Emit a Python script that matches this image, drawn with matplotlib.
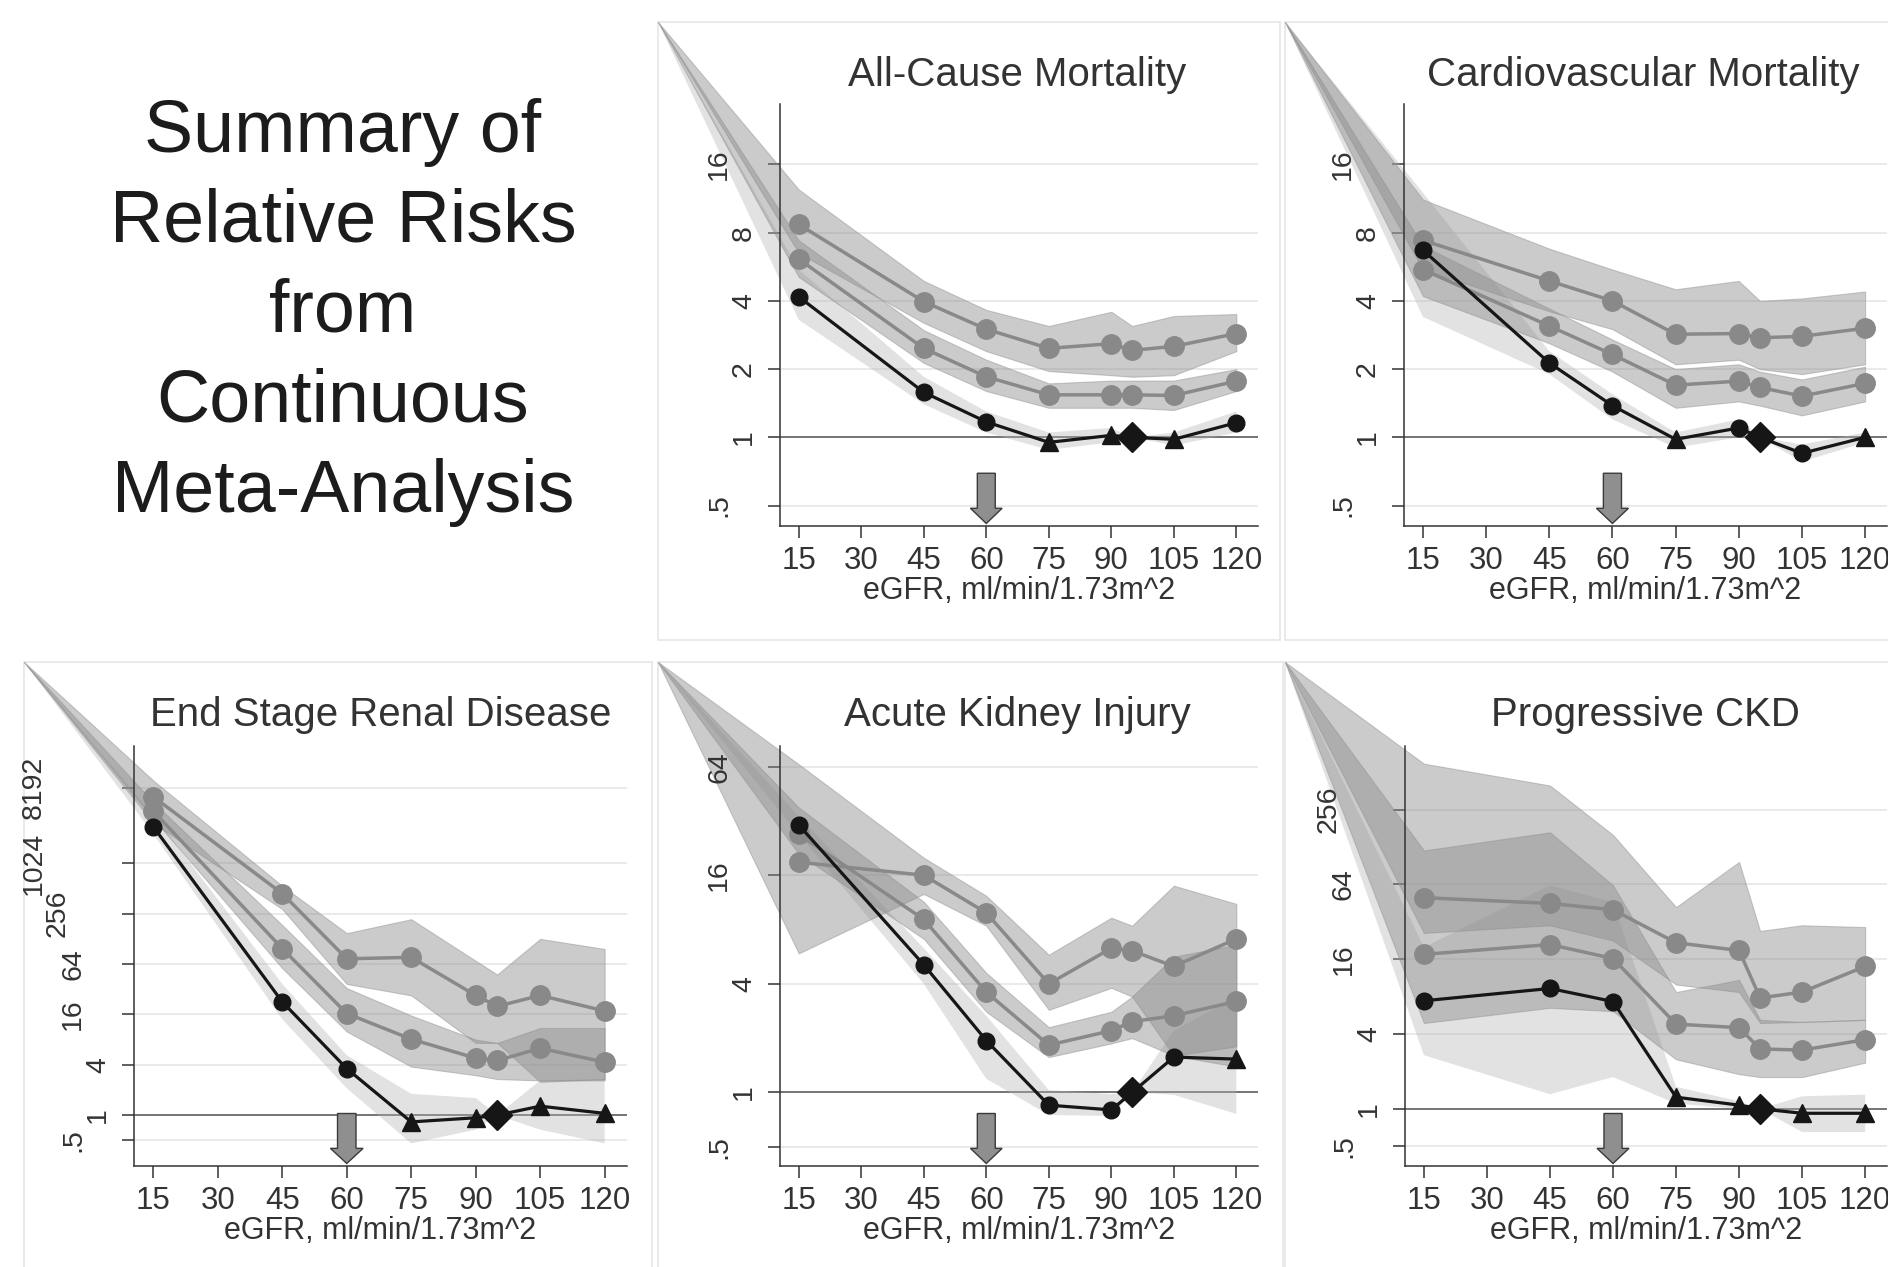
import matplotlib.pyplot as plt
from matplotlib.patches import Rectangle, FancyArrow
from matplotlib.ticker import NullLocator

plt.rcParams['font.family'] = ['Liberation Sans', 'DejaVu Sans']

# eGFR categories (ml/min/1.73m^2); 95 is the reference category
egfr = [15, 45, 60, 75, 90, 95, 105, 120]
egfr_ticks = [15, 30, 45, 60, 75, 90, 105, 120]

# marker kind of the black curve: s = significant, n = not significant, r = reference
# All-cause mortality
acm_black = [4.17, 1.58, 1.17, 0.95, 1.02, 1.0, 0.98, 1.16]
acm_black_lo = [3.3, 1.40, 1.05, 0.88, 0.95, 1.0, 0.92, 1.05]
acm_black_hi = [5.5, 1.85, 1.30, 1.05, 1.10, 1.0, 1.05, 1.30]
acm_kind = ['s', 's', 's', 'n', 'n', 'r', 'n', 's']
acm_g1 = [8.7, 3.97, 3.0, 2.47, 2.59, 2.42, 2.52, 2.87]
acm_g1_lo = [6.5, 3.2, 2.4, 1.96, 1.88, 1.85, 1.88, 2.4]
acm_g1_hi = [12.4, 4.9, 3.65, 3.1, 3.58, 3.1, 3.43, 3.5]
acm_g2 = [6.12, 2.47, 1.85, 1.54, 1.54, 1.54, 1.53, 1.77]
acm_g2_lo = [5.1, 2.13, 1.6, 1.35, 1.35, 1.35, 1.32, 1.6]
acm_g2_hi = [7.4, 2.97, 2.2, 1.73, 1.78, 1.78, 1.78, 2.0]

# Cardiovascular mortality
cvd_black = [6.7, 2.13, 1.38, 0.98, 1.1, 1.0, 0.85, 1.0]
cvd_black_lo = [3.4, 1.9, 1.2, 0.9, 1.0, 1.0, 0.78, 0.95]
cvd_black_hi = [12.0, 2.4, 1.55, 1.05, 1.2, 1.0, 0.93, 1.05]
cvd_kind = ['s', 's', 's', 'n', 's', 'r', 's', 'n']
cvd_g1 = [7.4, 4.9, 4.0, 2.85, 2.87, 2.75, 2.79, 3.03]
cvd_g1_lo = [5.5, 3.6, 3.0, 2.1, 2.2, 2.0, 1.9, 2.1]
cvd_g1_hi = [11.2, 6.8, 5.5, 4.5, 4.9, 4.0, 4.1, 4.4]
cvd_g2 = [5.5, 3.1, 2.32, 1.7, 1.77, 1.66, 1.52, 1.73]
cvd_g2_lo = [4.2, 2.6, 1.95, 1.35, 1.44, 1.38, 1.25, 1.44]
cvd_g2_hi = [7.0, 3.7, 2.7, 2.0, 2.1, 1.95, 1.8, 2.05]

# End stage renal disease
esrd_black = [2800, 22.6, 3.6, 0.83, 0.93, 1.0, 1.28, 1.05]
esrd_black_lo = [2300, 14, 2.1, 0.46, 0.67, 1.0, 0.67, 0.46]
esrd_black_hi = [3900, 37, 5.2, 1.8, 1.6, 1.0, 2.6, 2.7]
esrd_kind = ['s', 's', 's', 'n', 'n', 'r', 'n', 'n']
esrd_g1 = [6400, 445, 74, 77, 27, 20, 27, 17.6]
esrd_g1_lo = [3100, 290, 37, 27, 7.3, 7.3, 2.5, 2.7]
esrd_g1_hi = [10000, 550, 150, 220, 70, 48, 128, 97]
esrd_g2 = [4300, 98, 16.4, 8.1, 4.8, 4.5, 6.3, 4.3]
esrd_g2_lo = [3500, 57, 10, 3.8, 3.0, 2.7, 2.6, 2.6]
esrd_g2_hi = [5500, 187, 33, 15.5, 8, 7.3, 11, 11]

# Acute kidney injury
aki_black = [30.4, 5.1, 1.94, 0.85, 0.8, 1.0, 1.57, 1.53]
aki_black_lo = [27, 4.0, 1.19, 0.75, 0.74, 1.0, 0.97, 0.76]
aki_black_hi = [34, 6.3, 2.66, 1.03, 0.98, 1.0, 2.2, 3.4]
aki_kind = ['s', 's', 's', 's', 's', 'r', 's', 'n']
aki_g1 = [18.9, 16, 9.9, 4.0, 6.3, 6.1, 5.0, 7.1]
aki_g1_lo = [5.9, 12.6, 8.4, 2.87, 3.8, 3.4, 1.6, 1.8]
aki_g1_hi = [66, 20, 12.3, 5.8, 9.3, 8.4, 14, 11.1]
aki_g2 = [27, 9.1, 3.6, 1.83, 2.2, 2.47, 2.66, 3.2]
aki_g2_lo = [21, 7.1, 2.8, 1.57, 1.87, 2.0, 1.6, 1.39]
aki_g2_hi = [38, 11.4, 4.6, 2.3, 2.8, 3.4, 5.66, 6.6]

# Progressive CKD
ckd_black = [7.4, 9.3, 7.3, 1.24, 1.07, 1.0, 0.92, 0.92]
ckd_black_lo = [2.7, 1.31, 1.8, 1.1, 1.0, 1.0, 0.65, 0.65]
ckd_black_hi = [20, 63, 46, 1.5, 1.15, 1.0, 1.26, 1.3]
ckd_kind = ['s', 's', 's', 'n', 'n', 'r', 'n', 'n']
ckd_g1 = [50, 45, 40, 21.7, 18.8, 7.8, 8.7, 14]
ckd_g1_lo = [26, 30, 22.6, 10, 8.7, 4.9, 5.0, 5.2]
ckd_g1_hi = [600, 400, 160, 42, 97, 27, 30, 29]
ckd_g2 = [17.5, 21, 16.2, 4.8, 4.5, 3.03, 2.97, 3.6]
ckd_g2_lo = [4.9, 6.5, 6.1, 2.5, 1.9, 1.8, 1.8, 2.35]
ckd_g2_hi = [120, 168, 63, 8.7, 10.9, 5.2, 5.0, 5.2]

# y axis ticks per panel
yt_mort = [0.5, 1, 2, 4, 8, 16]
yl_mort = ['.5', '1', '2', '4', '8', '16']
yt_esrd = [0.5, 1, 4, 16, 64, 256, 1024, 8192]
yl_esrd = ['.5', '1', '4', '16', '64', '256', '1024', '8192']
yt_aki = [0.5, 1, 4, 16, 64]
yl_aki = ['.5', '1', '4', '16', '64']
yt_ckd = [0.5, 1, 4, 16, 64, 256]
yl_ckd = ['.5', '1', '4', '16', '64', '256']

summary_lines = ['Summary of', 'Relative Risks', 'from', 'Continuous', 'Meta-Analysis']

W, H, DPI = 1888, 1267, 100

# layout in pixels: axes box, frame box (left, top, right, bottom), title centre, log2 y-range
panels = [
    dict(title='All-Cause Mortality', black=(acm_black, acm_black_lo, acm_black_hi), kind=acm_kind,
         g1=(acm_g1, acm_g1_lo, acm_g1_hi), g2=(acm_g2, acm_g2_lo, acm_g2_hi),
         yt=yt_mort, yl=yl_mort, ylog=(-1.30, 4.886),
         box=(780, 104, 1258, 526), frame=(658, 22, 1280, 640), tpos=(1017, 75)),
    dict(title='Cardiovascular Mortality', black=(cvd_black, cvd_black_lo, cvd_black_hi), kind=cvd_kind,
         g1=(cvd_g1, cvd_g1_lo, cvd_g1_hi), g2=(cvd_g2, cvd_g2_lo, cvd_g2_hi),
         yt=yt_mort, yl=yl_mort, ylog=(-1.30, 4.886),
         box=(1404, 104, 1887, 526), frame=(1285, 22, 1910, 640), tpos=(1643, 75)),
    dict(title='End Stage Renal Disease', black=(esrd_black, esrd_black_lo, esrd_black_hi), kind=esrd_kind,
         g1=(esrd_g1, esrd_g1_lo, esrd_g1_hi), g2=(esrd_g2, esrd_g2_lo, esrd_g2_hi),
         yt=yt_esrd, yl=yl_esrd, ylog=(-2.02, 14.66),
         box=(134, 746, 627, 1166), frame=(24, 662, 652, 1290), tpos=(381, 715)),
    dict(title='Acute Kidney Injury', black=(aki_black, aki_black_lo, aki_black_hi), kind=aki_kind,
         g1=(aki_g1, aki_g1_lo, aki_g1_hi), g2=(aki_g2, aki_g2_lo, aki_g2_hi),
         yt=yt_aki, yl=yl_aki, ylog=(-1.355, 6.38),
         box=(780, 746, 1258, 1166), frame=(658, 662, 1283, 1290), tpos=(1017, 715)),
    dict(title='Progressive CKD', black=(ckd_black, ckd_black_lo, ckd_black_hi), kind=ckd_kind,
         g1=(ckd_g1, ckd_g1_lo, ckd_g1_hi), g2=(ckd_g2, ckd_g2_lo, ckd_g2_hi),
         yt=yt_ckd, yl=yl_ckd, ylog=(-1.53, 9.7),
         box=(1405, 746, 1887, 1166), frame=(1285, 662, 1910, 1290), tpos=(1645, 715)),
]

# rotated y labels sit further out the longer they are
LABEL_OFFSET = {1: 36, 2: 61, 3: 76, 4: 100}
PX = 72.0 / DPI

INK = '#333333'
GRAY = '#898989'
BLACK = '#161616'
MARKERS = {'s': ('o', 12), 'n': ('^', 12.5), 'r': ('D', 15)}


def fig_rect(left, top, right, bottom):
    return [left / W, 1 - bottom / H, (right - left) / W, (bottom - top) / H]


def draw_band(ax, lo, hi, apex, clip, **kw):
    xs = [apex[0]] + egfr
    poly = ax.fill_between(xs, [apex[1]] + lo, [apex[1]] + hi, **kw)
    poly.set_clip_path(clip)


fig = plt.figure(figsize=(W / DPI, H / DPI), dpi=DPI)
fig.patch.set_facecolor('white')

for i, line in enumerate(summary_lines):
    fig.text(343 / W, 1 - (152 + 90 * i) / H, line, ha='center', va='baseline',
             fontsize=53, color='#1c1c1c')

for p in panels:
    fl, ft, fr, fb = p['frame']
    frame = Rectangle((fl / W, 1 - fb / H), (fr - fl) / W, (fb - ft) / H,
                      transform=fig.transFigure, facecolor='white',
                      edgecolor='#e6e6e6', linewidth=1.2, zorder=0)
    fig.add_artist(frame)

    ax = fig.add_axes(fig_rect(*p['box']))
    ax.set_facecolor('none')
    ax.set_yscale('log', base=2)
    ax.set_xlim(10.5, 125.2)
    ax.set_ylim(2 ** p['ylog'][0], 2 ** p['ylog'][1])

    # confidence bands run out to the top-left corner of the panel frame
    apex = ax.transData.inverted().transform((fl, H - ft))

    ax.axhline(1, color='#555555', lw=1.1, zorder=1.5)
    bl, bl_lo, bl_hi = p['black']
    draw_band(ax, bl_lo, bl_hi, apex, frame, facecolor='#b4b4b4', alpha=0.38,
              edgecolor='none', zorder=1.6)
    for g, g_lo, g_hi in (p['g1'], p['g2']):
        draw_band(ax, g_lo, g_hi, apex, frame, facecolor='#8c8c8c', alpha=0.45,
                  edgecolor='#8f8f8f', linewidth=0.8, zorder=1.8)

    for g, _, _ in (p['g1'], p['g2']):
        ax.plot(egfr, g, color=GRAY, lw=2.5, marker='o', ms=14, mfc=GRAY, mec=GRAY, zorder=3)

    ax.plot(egfr, bl, color=BLACK, lw=2.3, zorder=4)
    for kind, (mk, ms) in MARKERS.items():
        xs = [x for x, k in zip(egfr, p['kind']) if k == kind]
        ys = [y for y, k in zip(bl, p['kind']) if k == kind]
        ax.plot(xs, ys, ls='none', marker=mk, ms=ms, color=BLACK, zorder=4.5)

    # reference arrow at eGFR 60
    ax.add_patch(FancyArrow(60, 0.125, 0, -0.119, width=4.3, head_width=7.6, head_length=0.036,
                            length_includes_head=True, transform=ax.get_xaxis_transform(),
                            facecolor='#8f8f8f', edgecolor='#3a3a3a', linewidth=1.0, zorder=5))

    for side in ('top', 'right'):
        ax.spines[side].set_visible(False)
    for side in ('left', 'bottom'):
        ax.spines[side].set_color(INK)
        ax.spines[side].set_linewidth(1.1)

    ax.set_xticks(egfr_ticks)
    ax.tick_params(axis='x', length=8.6, width=1.1, pad=5.7, labelsize=22.5, colors=INK)
    ax.yaxis.set_minor_locator(NullLocator())
    ax.set_yticks(p['yt'])
    ax.tick_params(axis='y', length=8.6, width=1.1, colors=INK, labelleft=False)
    ax.set_axisbelow(True)
    ax.grid(axis='y', color='#e4e4e4', lw=1.1)
    ax.grid(axis='x', visible=False)

    for v, lab in zip(p['yt'], p['yl']):
        ax.annotate(lab, xy=(0, v), xycoords=ax.get_yaxis_transform(),
                    xytext=(-LABEL_OFFSET[len(lab)] * PX, 0), textcoords='offset points',
                    rotation=90, ha='center', va='center', fontsize=20.5, color=INK)

    ax.set_xlabel('eGFR, ml/min/1.73m^2', fontsize=22, labelpad=0, color=INK)

    tx, ty = p['tpos']
    fig.text(tx / W, 1 - ty / H, p['title'], ha='center', va='center', fontsize=29, color=INK)

fig.savefig('out.png', dpi=DPI, facecolor='white')
